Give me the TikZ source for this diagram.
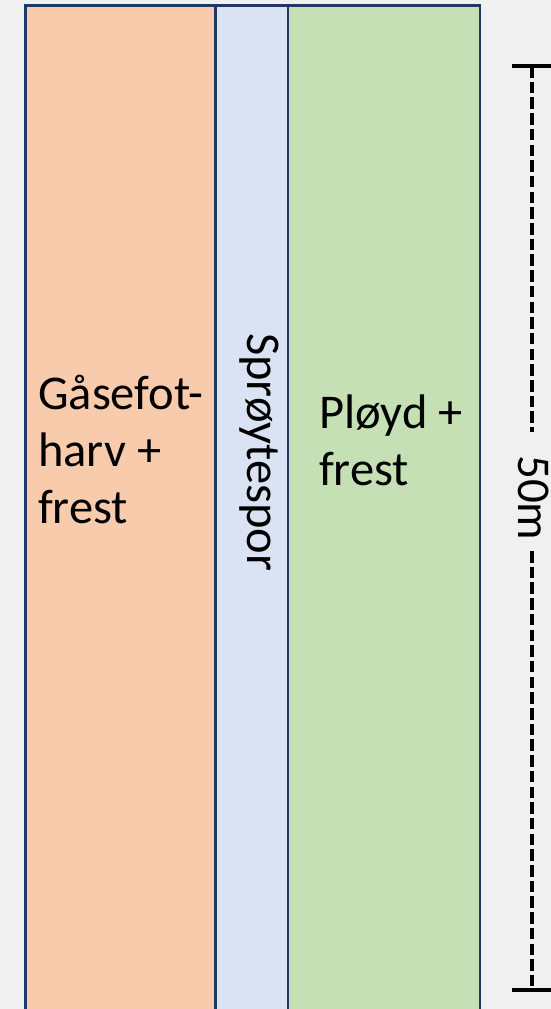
\documentclass[tikz,border=0pt]{standalone}
\usepackage{fontspec}
\setmainfont{Carlito}
\usepackage{xcolor}
\usetikzlibrary{positioning,calc}

\definecolor{bgGray}{HTML}{F0F0F0}
\definecolor{harvOrange}{HTML}{F8CBAD}
\definecolor{sporBlue}{HTML}{DAE3F3}
\definecolor{ployGreen}{HTML}{C5E0B4}
\definecolor{edgeNavy}{HTML}{203864}

\tikzset{
    field/.style={draw=edgeNavy, line width=2.5pt, anchor=north west, inner sep=0pt, outer sep=0pt, minimum height=1040pt},
    fieldText/.style={font=\fontsize{48.5}{57}\selectfont, inner sep=0pt, align=left},
    dimLine/.style={line width=3.3pt, black}
}

\begin{document}
\begin{tikzpicture}[x=1pt, y=-1pt]
    % Background
    \fill[bgGray] (0,0) rectangle (551,1009);
    \useasboundingbox (0,0) rectangle (551,1009);

    % Fields
    \node[field, fill=harvOrange, minimum width=189.8pt] (harv) at (25.5,5.5) {};
    \node[field, fill=sporBlue, minimum width=72.7pt] (spor) at (harv.north east) {};
    \node[field, fill=ployGreen, minimum width=192pt] (ploy) at (spor.north east) {};

    % Labels (base = last line)
    \node[fieldText, anchor=base west] (harvText) at (38,523) {Gåsefot-\\harv +\\frest};
    \node[fieldText, anchor=base west, rotate=-90] (sporText) at (247,333) {Sprøytespor};
    \node[fieldText, anchor=base west] (ployText) at (319,485) {Pløyd +\\frest};

    % Dimension line
    \coordinate (dimTop) at (532,66);
    \coordinate (dimBot) at (532,990);
    \draw[dimLine] (512,66) -- (560,66);
    \draw[dimLine] (512,990) -- (560,990);
    \node[fieldText, anchor=base west, rotate=-90, font=\fontsize{47}{57}\selectfont] (dimText) at (518,455) {50m};
    \coordinate (gapTop) at (532,432);
    \coordinate (gapBot) at (532,551);
    \draw[dimLine, dash pattern=on 11.5pt off 4.2pt] (dimTop) -- (gapTop);
    \draw[dimLine, dash pattern=on 11.5pt off 4.2pt] (gapBot) -- (dimBot);
\end{tikzpicture}
\end{document}
